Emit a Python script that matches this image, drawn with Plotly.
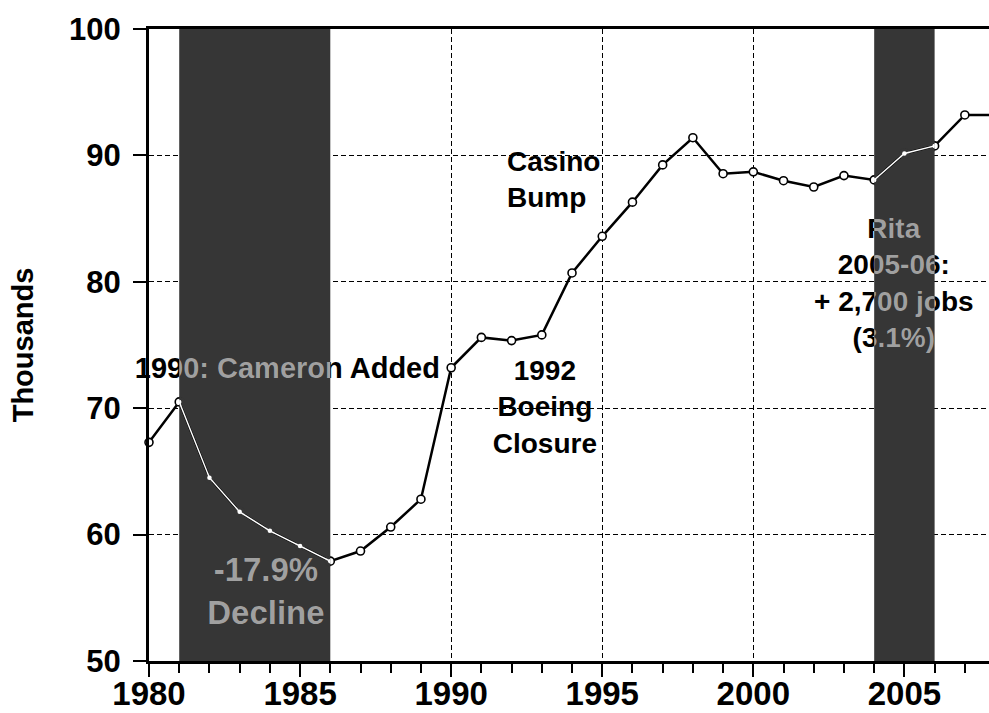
import plotly.graph_objects as go

# ---- data ----
years = list(range(1980, 2009))
jobs = [67.3, 70.5, 64.5, 61.8, 60.3, 59.1, 57.9, 58.7, 60.6, 62.8,
        73.2, 75.6, 75.35, 75.8, 80.7, 83.6, 86.3, 89.25, 91.4, 88.55,
        88.7, 88.0, 87.5, 88.4, 88.06, 90.15, 90.75, 93.2, 93.2]

shade_periods = [(1981, 1986), (2004, 2006)]

x_tick_vals = [1980, 1985, 1990, 1995, 2000, 2005]
y_tick_vals = [50, 60, 70, 80, 90, 100]

labels_text = ["1990: Cameron Added", "Casino<br>Bump", "1992<br>Boeing<br>Closure",
               "-17.9%<br>Decline", "Rita<br>2005-06:<br>+ 2,700 jobs<br>(3.1%)"]
labels_x = [1984.58, 1991.85, 1993.1, 1983.87, 2004.65]
labels_y = [73.0, 87.9, 69.9, 55.3, 79.7]
labels_pos = ["middle center", "middle right", "middle center", "middle center", "middle center"]
labels_size = [29, 28, 28, 33, 28]

X0, X1 = 1980, 2007.8
SHADE = "#363636"
FONT = "Liberation Sans, Arial, sans-serif"

fig = go.Figure()

# main line
fig.add_trace(go.Scatter(
    x=years, y=jobs, mode="lines+markers", xaxis="x", yaxis="y",
    line=dict(color="black", width=2.5),
    marker=dict(size=8, color="white", line=dict(color="black", width=1.6)),
    cliponaxis=False, showlegend=False, hoverinfo="skip"))

# black labels
fig.add_trace(go.Scatter(
    x=labels_x, y=labels_y, mode="text", text=labels_text, textposition=labels_pos,
    textfont=dict(family=FONT, size=labels_size, color="black", weight="bold"),
    cliponaxis=False, showlegend=False, hoverinfo="skip", xaxis="x", yaxis="y"))

layout_extra = {}
for i, (a, b) in enumerate(shade_periods):
    fig.add_shape(type="rect", xref="x", yref="y", x0=a, x1=b, y0=50, y1=100,
                  fillcolor=SHADE, line=dict(width=0), layer="between")
    ax = f"x{i+2}"
    layout_extra[f"xaxis{i+2}"] = dict(
        domain=[(a - X0) / (X1 - X0), (b - X0) / (X1 - X0)], range=[a, b],
        anchor="y2", visible=False, showgrid=False, zeroline=False)
    # cover main markers inside shade
    fig.add_trace(go.Scatter(
        x=years, y=jobs, mode="markers", xaxis=ax, yaxis="y2",
        marker=dict(size=11, color=SHADE, line=dict(width=0)),
        cliponaxis=True, showlegend=False, hoverinfo="skip"))
    fig.add_trace(go.Scatter(
        x=years, y=jobs, mode="lines+markers", xaxis=ax, yaxis="y2",
        line=dict(color="white", width=1.4),
        marker=dict(size=4.5, color="white", line=dict(width=0)),
        cliponaxis=True, showlegend=False, hoverinfo="skip"))
    fig.add_trace(go.Scatter(
        x=labels_x, y=labels_y, mode="text", text=labels_text, textposition=labels_pos,
        textfont=dict(family=FONT, size=labels_size, color="#a0a0a0", weight="bold"),
        cliponaxis=True, showlegend=False, hoverinfo="skip", xaxis=ax, yaxis="y2"))

fig.update_layout(
    width=989, height=713,
    margin=dict(l=149, r=0, t=29, b=52),
    paper_bgcolor="white", plot_bgcolor="rgba(0,0,0,0)",
    showlegend=False,
    xaxis=dict(range=[X0, X1], tickvals=x_tick_vals, ticks="outside", ticklen=13,
               tickwidth=2, tickcolor="black", ticklabelstandoff=-12, automargin=False,
               minor=dict(dtick=1, tick0=1980, ticks="outside", ticklen=9, tickwidth=2,
                          tickcolor="black", showgrid=False),
               showline=True, linecolor="black", linewidth=3, mirror=True,
               showgrid=True, gridcolor="black", gridwidth=1.3, griddash="5px,3px",
               zeroline=False,
               tickfont=dict(family=FONT, size=33, color="black", weight="bold")),
    yaxis=dict(range=[50, 100], tickvals=y_tick_vals, ticks="outside", ticklen=13,
               tickwidth=2, tickcolor="black", ticklabelstandoff=6, automargin=False,
               showline=True, linecolor="black", linewidth=3,
               showgrid=True, gridcolor="black", gridwidth=1.3, griddash="5px,3px",
               zeroline=False,
               tickfont=dict(family=FONT, size=31, color="black", weight="bold"),
               title=dict(text="Thousands", standoff=27,
                          font=dict(family=FONT, size=29, color="black", weight="bold"))),
    yaxis2=dict(range=[50, 100], domain=[0, 1], anchor="x2", visible=False,
                showgrid=False, zeroline=False),
    **layout_extra,
)

fig.write_html("out.html", config={"displayModeBar": False},
               post_script="document.body.style.margin='0';")
